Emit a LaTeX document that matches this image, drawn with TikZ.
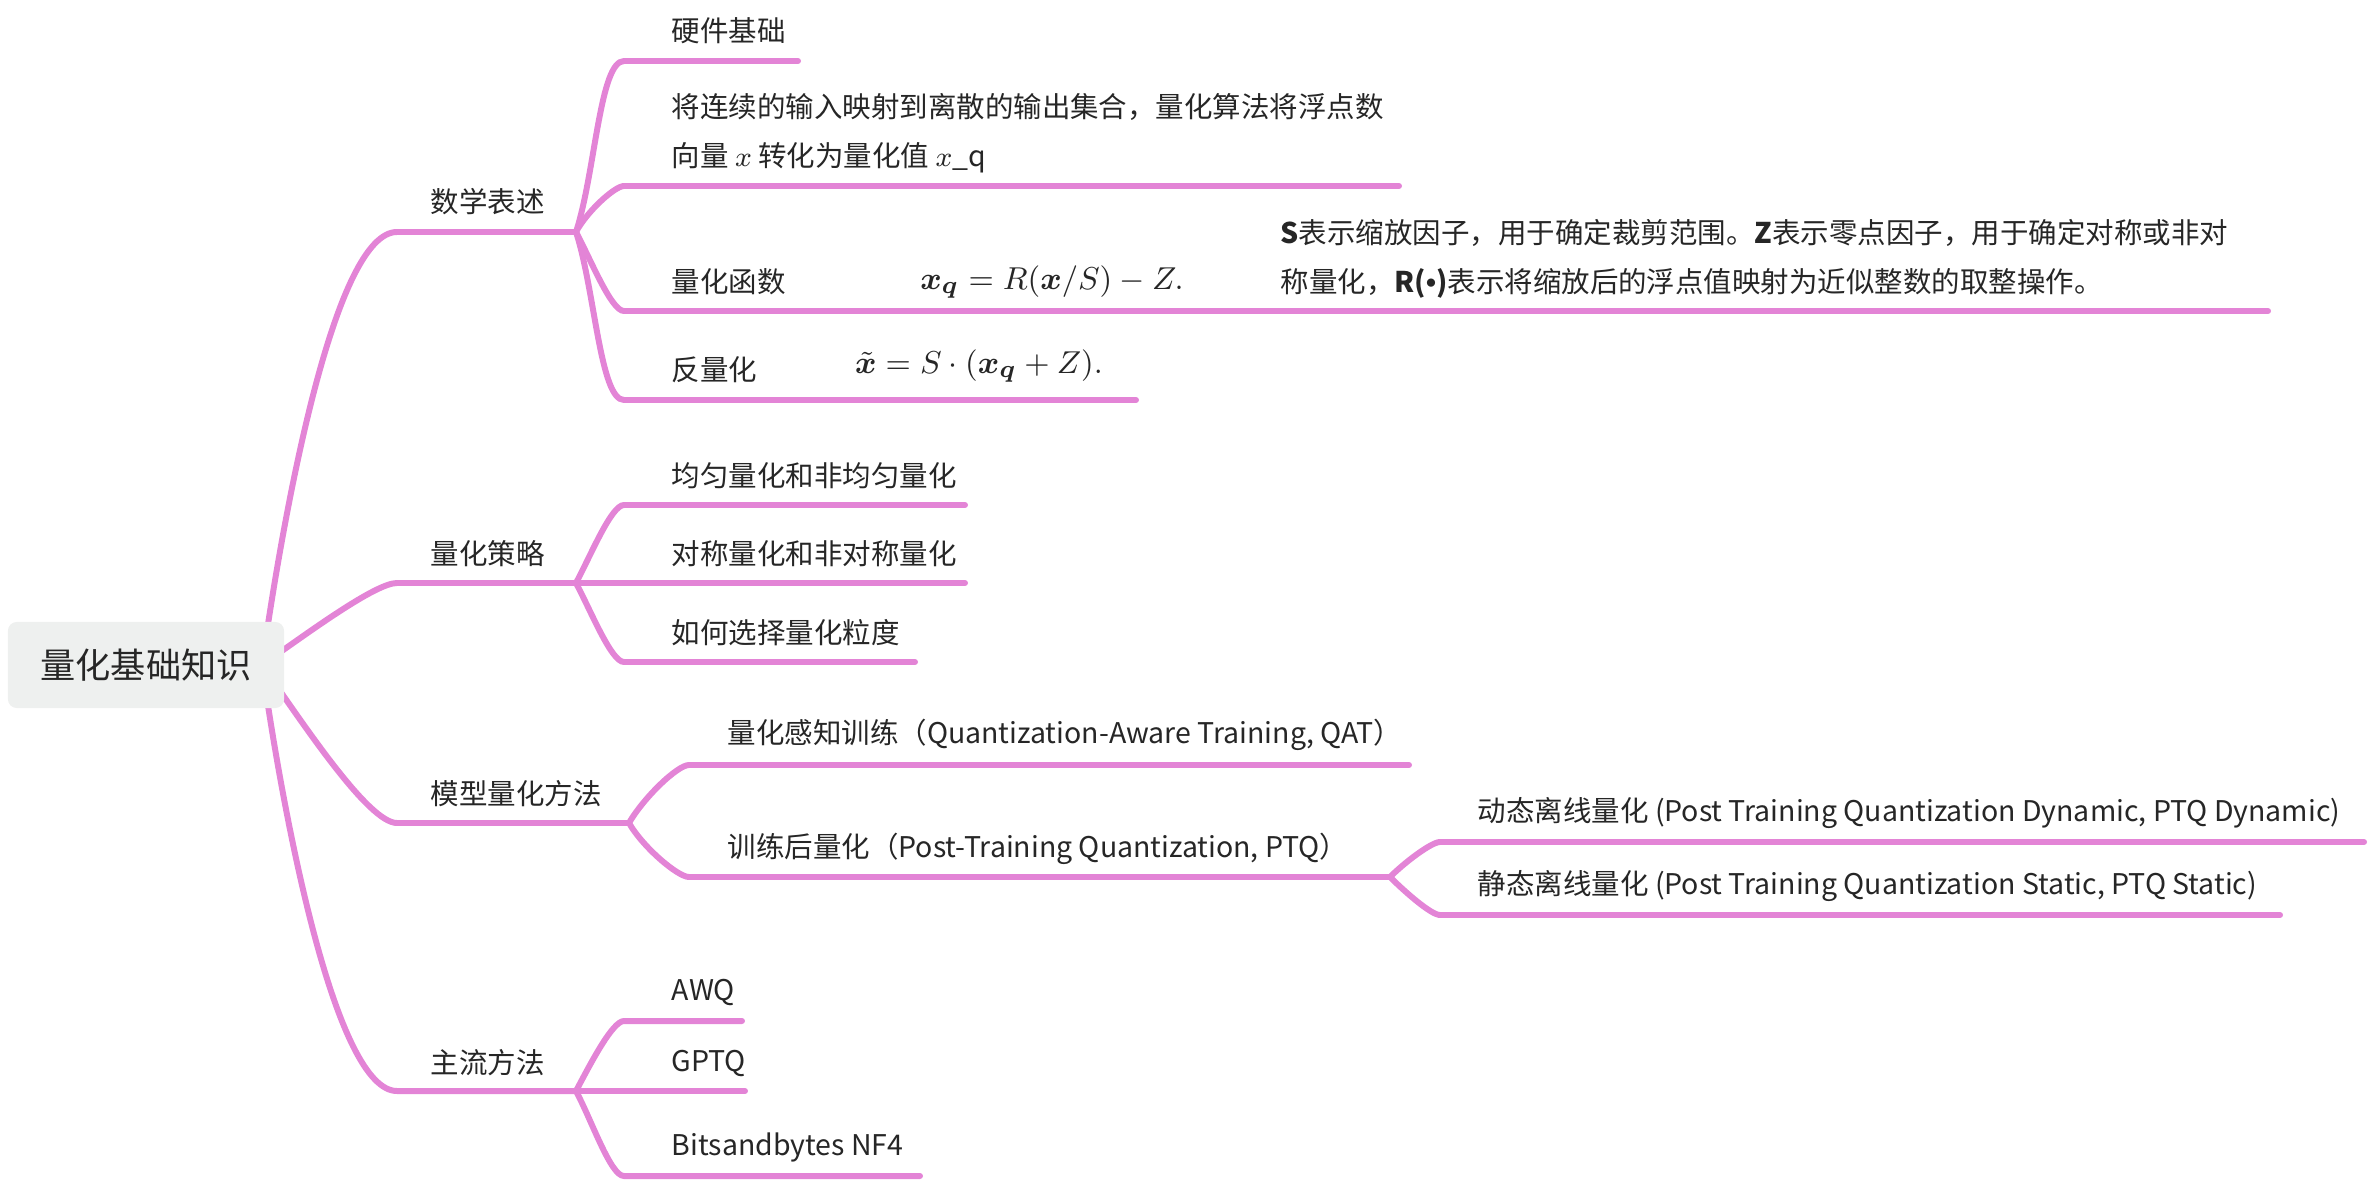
\documentclass[tikz,border=0pt]{standalone}
\usepackage{fontspec}
\usepackage{amsmath,bm}
\setmainfont{Noto Sans CJK SC}
\newfontfamily\bulletfont{Liberation Sans}
\usetikzlibrary{backgrounds}
\definecolor{mmpink}{HTML}{E384D6}
\definecolor{rootgray}{HTML}{EEF0EF}
\definecolor{txtgray}{HTML}{262626}

\begin{document}
\begin{tikzpicture}[
  x=0.01cm, y=-0.01cm,
  branch/.style={draw=mmpink,line width=1.7pt,line cap=round},
  fan/.style={in=180,out looseness=0.9,in looseness=0.35},
  topic/.style={anchor=west,inner sep=0pt,text=txtgray,font=\fontsize{8.1}{13.8}\selectfont},
  formula/.style={inner sep=0pt,text=txtgray,font=\fontsize{9.5}{11}\selectfont}
]
\useasboundingbox (0,0) rectangle (2376,1182);

% central topic
\node[fill=rootgray,rounded corners=2.5pt,minimum width=2.76cm,minimum height=0.86cm,
  text=txtgray,font=\fontsize{10}{12}\selectfont] (root) at (146,665) {量化基础知识};
\coordinate (rootport) at (262,665);

% main branches
\coordinate (math-s) at (397,232);   \coordinate (math-e) at (576,232);
\coordinate (strat-s) at (397,583);  \coordinate (strat-e) at (576,583);
\coordinate (method-s) at (397,823); \coordinate (method-e) at (629,823);
\coordinate (main-s) at (397,1091);  \coordinate (main-e) at (576,1091);
\node[topic] (math) at (430,202) {数学表述};
\node[topic] (strat) at (430,554) {量化策略};
\node[topic] (method) at (430,794) {模型量化方法};
\node[topic] (main) at (430,1063) {主流方法};

% 数学表述
\coordinate (hw-s) at (624,61);       \coordinate (hw-e) at (798,61);
\coordinate (def-s) at (624,186);     \coordinate (def-e) at (1399,186);
\coordinate (qfunc-s) at (624,311);   \coordinate (qfunc-e) at (2268,311);
\coordinate (dequant-s) at (624,400); \coordinate (dequant-e) at (1136,400);
\node[topic] (hw) at (671,31) {硬件基础};
\node[topic,align=left] (def) at (671,133) {将连续的输入映射到离散的输出集合，量化算法将浮点数\\向量 $x$ 转化为量化值 $x$\_q};
\node[topic] (qfunc) at (671,282) {量化函数};
\node[formula] (qformula) at (1052,282) {$\bm{x}_{\bm{q}} = R(\bm{x}/S) - Z.$};
\node[topic,align=left] (qnote) at (1280,259) {\textbf{S}表示缩放因子，用于确定裁剪范围。\textbf{Z}表示零点因子，用于确定对称或非对\\称量化，\textbf{R(}{\bulletfont\bfseries •}\textbf{)}表示将缩放后的浮点值映射为近似整数的取整操作。};
\node[topic] (dequant) at (671,370) {反量化};
\node[formula] (dformula) at (979,366) {$\tilde{\bm{x}} = S\cdot(\bm{x}_{\bm{q}} + Z).$};

% 量化策略
\coordinate (uniform-s) at (624,505); \coordinate (uniform-e) at (965,505);
\coordinate (sym-e) at (965,583);
\coordinate (gran-s) at (624,662);    \coordinate (gran-e) at (915,662);
\node[topic] (uniform) at (671,476) {均匀量化和非均匀量化};
\node[topic] (sym) at (671,554) {对称量化和非对称量化};
\node[topic] (gran) at (671,633) {如何选择量化粒度};

% 模型量化方法
\coordinate (qat-s) at (689,765); \coordinate (qat-e) at (1409,765);
\coordinate (ptq-s) at (689,877); \coordinate (ptq-e) at (1390,877);
\node[topic] (qat) at (727,735) {量化感知训练（Quantization-Aware Training, QAT）};
\node[topic] (ptq) at (727,849) {训练后量化（Post-Training Quantization, PTQ）};
\coordinate (dyn-s) at (1440,842);  \coordinate (dyn-e) at (2364,842);
\coordinate (stat-s) at (1440,915); \coordinate (stat-e) at (2280,915);
\node[topic] (dyn) at (1477,813) {动态离线量化 (Post Training Quantization Dynamic, PTQ Dynamic)};
\node[topic] (stat) at (1477,886) {静态离线量化 (Post Training Quantization Static, PTQ Static)};

% 主流方法
\coordinate (awq-s) at (624,1021); \coordinate (awq-e) at (742,1021);
\coordinate (gptq-e) at (745,1091);
\coordinate (bnb-s) at (624,1176); \coordinate (bnb-e) at (920,1176);
\node[topic] (awq) at (671,992) {AWQ};
\node[topic] (gptq) at (671,1063) {GPTQ};
\node[topic] (bnb) at (671,1147) {Bitsandbytes NF4};

\begin{scope}[on background layer]
\draw[branch] (rootport) to[fan,out=82] (math-s) -- (math-e);
\draw[branch] (rootport) to[fan,out=35] (strat-s) -- (strat-e);
\draw[branch] (rootport) to[fan,out=-55] (method-s) -- (method-e);
\draw[branch] (rootport) to[fan,out=-82] (main-s) -- (main-e);
\draw[branch] (math-e) to[fan,out=72] (hw-s) -- (hw-e);
\draw[branch] (math-e) to[fan,out=62] (def-s) -- (def-e);
\draw[branch] (math-e) to[fan,out=-62] (qfunc-s) -- (qfunc-e);
\draw[branch] (math-e) to[fan,out=-72] (dequant-s) -- (dequant-e);
\draw[branch] (strat-e) to[fan,out=62] (uniform-s) -- (uniform-e);
\draw[branch] (strat-e) -- (sym-e);
\draw[branch] (strat-e) to[fan,out=-62] (gran-s) -- (gran-e);
\draw[branch] (method-e) to[fan,out=60] (qat-s) -- (qat-e);
\draw[branch] (method-e) to[fan,out=-60] (ptq-s) -- (ptq-e);
\draw[branch] (ptq-e) to[fan,out=45] (dyn-s) -- (dyn-e);
\draw[branch] (ptq-e) to[fan,out=-45] (stat-s) -- (stat-e);
\draw[branch] (main-e) to[fan,out=62] (awq-s) -- (awq-e);
\draw[branch] (main-e) -- (gptq-e);
\draw[branch] (main-e) to[fan,out=-62] (bnb-s) -- (bnb-e);
\end{scope}
\end{tikzpicture}
\end{document}
